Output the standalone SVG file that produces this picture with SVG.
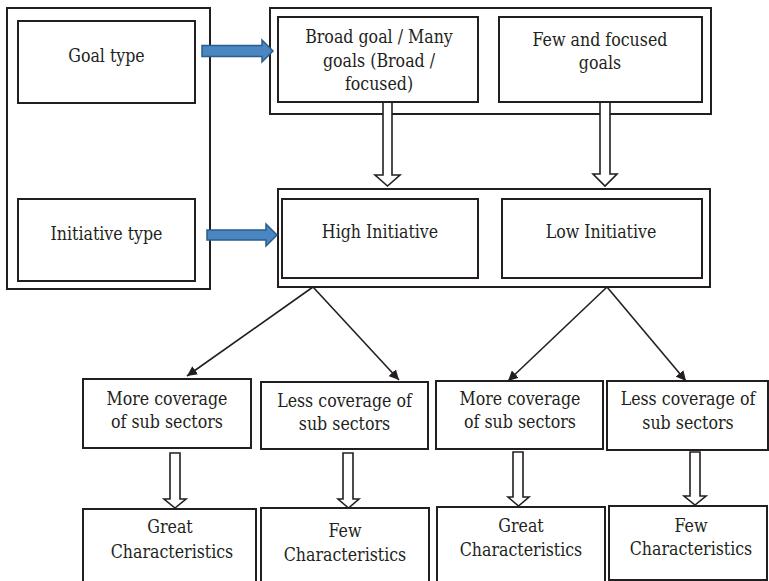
<svg xmlns="http://www.w3.org/2000/svg" width="769" height="581" viewBox="0 0 769 581">
<style>
.box{fill:#fff;stroke:#231f20;stroke-width:2}
.frame{fill:none;stroke:#231f20;stroke-width:2}
text{font-family:'DejaVu Serif Condensed','DejaVu Serif',serif;font-stretch:condensed;font-size:17.6px;fill:#231f20;text-anchor:middle}
.blk{fill:#fff;stroke:#231f20;stroke-width:1.6;stroke-linejoin:miter}
.blue{fill:#4a86c2;stroke:#2b5c8a;stroke-width:1.5}
.ln{stroke:#231f20;stroke-width:1.6;fill:none;marker-end:url(#ah)}
</style>
<defs>
<marker id="ah" viewBox="0 0 10 10" refX="10" refY="5" markerWidth="10" markerHeight="10" markerUnits="userSpaceOnUse" orient="auto">
<path d="M0,0 L10,5 L0,10 Z" fill="#231f20"/>
</marker>
</defs>
<rect width="769" height="581" fill="#fff"/>
<g id="frames">
<rect id="left-frame" class="frame" x="7" y="8" width="203" height="281"/>
<rect id="goal-frame" class="frame" x="270" y="8" width="441" height="106"/>
<rect id="init-frame" class="frame" x="278" y="189" width="432" height="98"/>
</g>
<g id="goal-type"><rect class="box" x="18" y="21" width="177" height="82"/><text x="106.5" y="62">Goal type</text></g>
<g id="initiative-type"><rect class="box" x="18" y="199" width="177" height="82"/><text x="106.5" y="240">Initiative type</text></g>
<g id="broad-goal"><rect class="box" x="278" y="17" width="200" height="85"/><text x="379" y="43">Broad goal / Many</text><text x="379" y="67">goals (Broad /</text><text x="379" y="90">focused)</text></g>
<g id="few-goals"><rect class="box" x="499" y="17" width="203" height="85"/><text x="600" y="46">Few and focused</text><text x="600" y="69">goals</text></g>
<g id="high-initiative"><rect class="box" x="282" y="199" width="196" height="79"/><text x="380" y="238">High Initiative</text></g>
<g id="low-initiative"><rect class="box" x="502" y="199" width="200" height="79"/><text x="601" y="238">Low Initiative</text></g>
<g id="more-cov-1"><rect class="box" x="83" y="379" width="168" height="69"/><text x="167" y="405">More coverage</text><text x="167" y="428">of sub sectors</text></g>
<g id="less-cov-1"><rect class="box" x="261" y="382" width="167" height="67"/><text x="344.5" y="407">Less coverage of</text><text x="344.5" y="430">sub sectors</text></g>
<g id="more-cov-2"><rect class="box" x="436" y="381" width="167" height="68"/><text x="520" y="405">More coverage</text><text x="520" y="428">of sub sectors</text></g>
<g id="less-cov-2"><rect class="box" x="607" y="381" width="161" height="69"/><text x="688" y="405">Less coverage of</text><text x="688" y="429">sub sectors</text></g>
<g id="great-1"><rect class="box" x="83" y="509" width="173" height="80"/><text x="170" y="533">Great</text><text x="172" y="558">Characteristics</text></g>
<g id="few-1"><rect class="box" x="261" y="508" width="168" height="80"/><text x="345" y="537">Few</text><text x="345" y="561">Characteristics</text></g>
<g id="great-2"><rect class="box" x="437" y="507" width="168" height="80"/><text x="521" y="532">Great</text><text x="521" y="556">Characteristics</text></g>
<g id="few-2"><rect class="box" x="609" y="506" width="158" height="74"/><text x="691" y="532">Few</text><text x="691" y="555">Characteristics</text></g>
<g id="connectors">
<path class="blue" d="M202,45.5 H262 V40 L273,51 L262,62 V56.5 H202 Z"/>
<path class="blue" d="M207,230 H266 V224 L277,235 L266,246 V240 H207 Z"/>
<path class="blk" d="M383,103 V175 H375 L387.5,186 L400,175 H392 V103"/>
<path class="blk" d="M600,103 V174 H593 L605,186 L617,174 H610 V103"/>
<path class="blk" d="M170,453 V499 H164 L175,508 L186,499 H180 V453 Z"/>
<path class="blk" d="M343,453 V499 H338 L348.5,508 L359,499 H353 V453 Z"/>
<path class="blk" d="M513,452 V497 H508 L518.5,506 L529,497 H523 V452 Z"/>
<path class="blk" d="M690,452 V496 H684 L695,505 L706,496 H700 V452 Z"/>
<line class="ln" x1="313" y1="287" x2="187" y2="376"/>
<line class="ln" x1="313" y1="287" x2="399" y2="380"/>
<line class="ln" x1="607" y1="287" x2="508" y2="381"/>
<line class="ln" x1="607" y1="287" x2="686" y2="381"/>
</g>
</svg>
